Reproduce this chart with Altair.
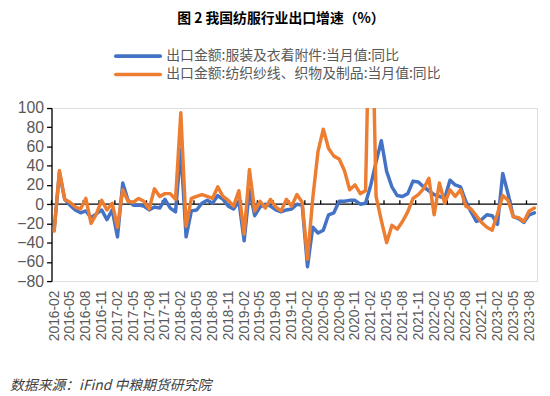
import altair as alt
import pandas as pd

# ---- data ----
months = [p.strftime("%Y-%m") for p in pd.period_range("2016-02", "2023-09", freq="M")]
tick_labels = months[::3]

apparel = [-27, 33, 5, -1, -6, -9, -7, -14, -10, -6,
           -16, -6, -34, 22, 4, -1, -1, -2, -6, -3,
           -4, 5, -4, -8, 57, -34, -7, -6, 1, 4,
           1, 9, 5, -2, -5, 3, -38, 15, -12, -3,
           0, -2, -6, -8, -6, -5, 0, -1, -65, -24,
           -30, -27, -11, -9, 3, 3, 4, 4, 0, 1,
           20, 44, 66, 34, 18, 9, 8, 11, 24, 23,
           18, 14, 10, 8, 6, 25, 20, 18, 3, -8,
           -18, -16, -11, -12, -21, 32, 11, -13, -15, -19,
           -11, -9]

textile = [-28, 35, 5, 2, -3, -5, 6, -20, -10, 4,
           -6, 1, -24, 15, 3, 2, 6, 3, -5, 16,
           8, 11, 11, 5, 95, -23, 6, 8, 10, 8,
           6, 18, 8, 4, -2, 14, -31, 36, -7, 3,
           -4, 5, -3, -7, 5, -2, 10, 2, -57, 6,
           55, 78, 58, 50, 47, 35, 15, 20, 11, 14,
           270, 8, -17, -40, -22, -26, -18, -8, 6, 10,
           16, 27, -11, 22, 1, 15, 8, 15, -2, -5,
           -12, -19, -24, -27, -10, 9, 4, -13, -14, -18,
           -7, -4]

series_names = ["出口金额:服装及衣着附件:当月值:同比",
                "出口金额:纺织纱线、织物及制品:当月值:同比"]
series_colors = ["#4472C4", "#ED7D31"]
title_text = "图 2  我国纺服行业出口增速（%）"
source_text = "数据来源：iFind  中粮期货研究院"
y_ticks = [-80, -60, -40, -20, 0, 20, 40, 60, 80, 100]

W, H = 491, 175
STEP = W / len(months)

df_a = pd.DataFrame({"month": months, "value": apparel})
df_t = pd.DataFrame({"month": months, "value": textile})

x_scale = alt.Scale(type="point", padding=0.5, domain=months)
y_scale = alt.Scale(domain=[-80, 100], nice=False, zero=False)

axis_font = "Liberation Sans"
grey = "#595959"

x_axis = alt.Axis(values=tick_labels, labelAngle=-90, labelFont=axis_font,
                  labelFontSize=14, labelColor=grey, ticks=False, domain=False,
                  labelPadding=9, labelOverlap=False, grid=False, title=None)
y_axis = alt.Axis(values=y_ticks, labelFont=axis_font, labelFontSize=16,
                  labelColor=grey, tickSize=5, tickColor="black", tickWidth=1.3,
                  domainColor="black", domainWidth=1.3, labelPadding=3,
                  labelOverlap=False, labelBound=False, grid=False, title=None)

X = alt.X("month:O", scale=x_scale, axis=x_axis)

zero = alt.Chart(pd.DataFrame({"value": [0]})).mark_rule(
    color="black", strokeWidth=1.3).encode(
    y=alt.Y("value:Q", scale=y_scale, axis=y_axis))

ticks = alt.Chart(pd.DataFrame({"month": tick_labels, "value": [0] * len(tick_labels),
                                "value2": [4] * len(tick_labels)})).mark_rule(
    color="black", strokeWidth=1.3, xOffset=-STEP / 2).encode(
    x=X, y=alt.Y("value:Q", scale=y_scale, axis=y_axis), y2="value2:Q")

line_a = alt.Chart(df_a).mark_line(color=series_colors[0], strokeWidth=3.5,
                                   strokeJoin="round", strokeCap="round", clip=True).encode(
    x=X, y=alt.Y("value:Q", scale=y_scale, axis=y_axis))
line_t = alt.Chart(df_t).mark_line(color=series_colors[1], strokeWidth=3.5,
                                   strokeJoin="round", strokeCap="round", clip=True).encode(
    x=X, y=alt.Y("value:Q", scale=y_scale, axis=y_axis))

cjk = "Noto Sans CJK SC"
title = alt.Chart(pd.DataFrame({"t": [title_text]})).mark_text(
    font=cjk, fontSize=14, fontWeight="bold", color="black", align="center",
    baseline="middle").encode(text="t:N", x=alt.value(232), y=alt.value(-90))

leg_layers = []
for k, (name, col) in enumerate(zip(series_names, series_colors)):
    yy = -52.5 + 18.5 * k
    leg_layers.append(alt.Chart(pd.DataFrame({"t": [name]})).mark_rule(
        color=col, strokeWidth=3.6, strokeCap="round").encode(
        x=alt.value(65), x2=alt.value(110), y=alt.value(yy)))
    leg_layers.append(alt.Chart(pd.DataFrame({"t": [name]})).mark_text(
        font=cjk, fontSize=14, color=grey, align="left", baseline="middle").encode(
        text="t:N", x=alt.value(116), y=alt.value(yy)))

source = alt.Chart(pd.DataFrame({"t": [source_text]})).mark_text(
    font=cjk, fontSize=14, fontStyle="italic", color="#404040", align="left",
    baseline="middle").encode(text="t:N", x=alt.value(-42), y=alt.value(281))

chart = alt.layer(zero, ticks, line_a, line_t, title, *leg_layers, source).properties(
    width=W, height=H,
    autosize=alt.AutoSizeParams(type="none"),
    padding={"left": 44, "top": 99, "right": 5, "bottom": 112},
).configure_view(strokeWidth=0).configure(background="white")

chart.save("out.html", embed_options={"renderer": "svg", "actions": False})
